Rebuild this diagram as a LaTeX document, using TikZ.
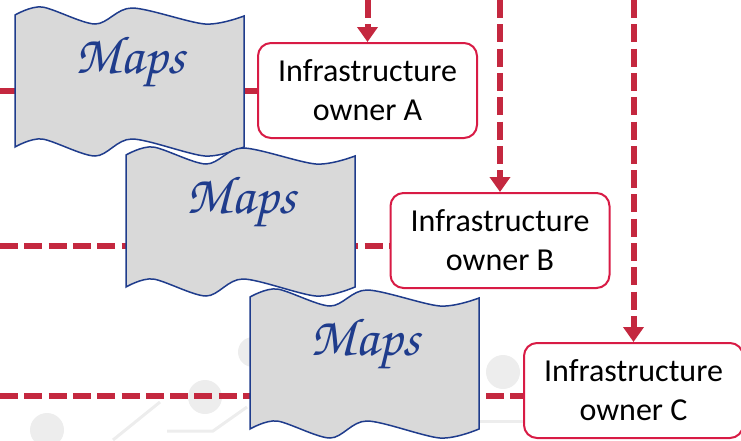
\documentclass[tikz,border=0pt]{standalone}
\usepackage[T1]{fontenc}
\usepackage{fontspec}
\setmainfont{Carlito}
\usetikzlibrary{arrows.meta}

\definecolor{linered}{HTML}{C4283F}
\definecolor{boxred}{HTML}{D81B45}
\definecolor{mapblue}{HTML}{1F3C8C}
\definecolor{mapgray}{HTML}{D9D9D9}
\definecolor{circuit}{HTML}{EDEDED}

\newcommand{\mapsfont}{\usefont{T1}{pzc}{mb}{it}\fontsize{54}{54}\selectfont}

\tikzset{
  owner/.style={draw=boxred, line width=2pt, rounded corners=13pt, fill=white,
    minimum width=219pt, minimum height=95pt, align=center, inner sep=0pt,
    font=\fontsize{32}{39}\selectfont},
  link/.style={draw=linered, line width=6pt, dash pattern=on 18pt off 6.3pt},
  feed/.style={link, -{Triangle[width=20pt,length=15pt]}},
  sheet/.style={draw=mapblue, line width=1.5pt, fill=mapgray},
  mapslabel/.style={text=mapblue, font=\mapsfont, anchor=base},
  trace/.style={draw=circuit, line width=3pt}
}

\begin{document}
\begin{tikzpicture}[x=1pt, y=-1pt]
    \useasboundingbox (0,0) rectangle (741,440);

    % draw faint circuit in the background
    \foreach \cx/\cy/\r in {47/430/17, 205/397/17, 253/352/15, 503/372/17}
    \fill[circuit] (\cx,\cy) circle (\r);
    \draw[trace] (113,440) -- (160,402);
    \draw[trace] (167,431) -- (213,431) -- (247,407);
    \draw[trace] (480,421) -- (525,421);

    % draw owner boxes
    \node[owner] (ownerA) at (367.5, 90.5) {Infrastructure\\owner A};
    \node[owner] (ownerB) at (500, 240.5)  {Infrastructure\\owner B};
    \node[owner] (ownerC) at (633.5,390.5) {Infrastructure\\owner C};

    % draw horizontal lines
    \coordinate (startA) at (0,91);
    \coordinate (startB) at (0,246);
    \coordinate (startC) at (0,396);
    \draw[link] (startA) -- (startA -| ownerA.west);
    \draw[link] (startB) -- (startB -| ownerB.west);
    \draw[link] (startC) -- (startC -| ownerC.west);

    % draw map sheets
    \foreach \name/\x/\y in {mapA/15/15, mapB/126/155, mapC/250/297}
    {
    \draw[sheet, shift={(\x,\y)}]
        plot[smooth] coordinates {(0,0) (27,-8) (80,9) (117,-7) (190,9) (229,1)}
        -- (229,132)
        -- plot[smooth] coordinates {(229,132) (190,141) (117,124) (80,141) (27,124) (0,132)}
        -- cycle;
    \node[mapslabel] (\name) at (\x+115,\y+58) {Maps};
    }

    % draw vertical arrows
    \coordinate (feedA) at (ownerA.north |- 0,0);
    \coordinate (feedB) at (ownerB.north |- 0,0);
    \coordinate (feedC) at (ownerC.north |- 0,0);
    \draw[feed] (feedA) -- (ownerA.north);
    \draw[feed] (feedB) -- (ownerB.north);
    \draw[feed] (feedC) -- (ownerC.north);

\end{tikzpicture}
\end{document}
